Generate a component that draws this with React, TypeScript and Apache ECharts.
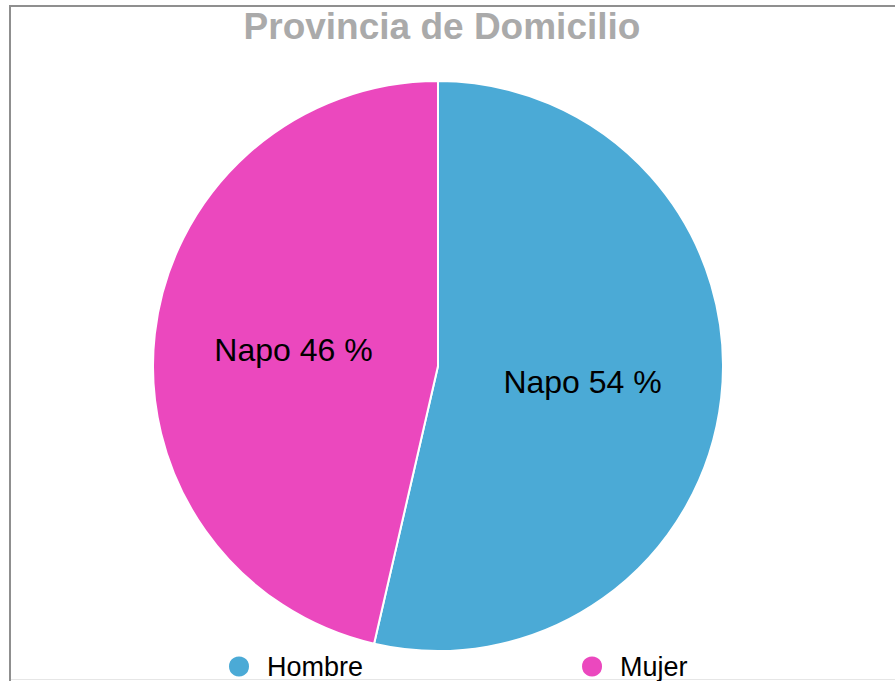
import React, { useEffect, useRef } from "react";
import * as echarts from "echarts";

const categories = ["Hombre", "Mujer"];
const values = [536, 464];
const labelPrefix = "Napo";
const titleText = "Provincia de Domicilio";
const colors = ["#4BAAD6", "#EB48BE"];

export default function App() {
  const ref = useRef<HTMLDivElement>(null);
  useEffect(() => {
    if (!ref.current) return;
    const chart = echarts.init(ref.current, null, { renderer: "svg" });
    chart.setOption({
      animation: false,
      color: colors,
      title: {
        text: titleText,
        left: 437,
        textAlign: "center",
        top: 3,
        textStyle: {
          fontFamily: "Arial, 'Liberation Sans', sans-serif",
          fontSize: 37,
          fontWeight: "bold",
          color: "#aaaaaa",
        },
      },
      legend: {
        left: 222,
        top: 648,
        icon: "circle",
        itemWidth: 22,
        itemHeight: 22,
        itemGap: 217,
        textStyle: {
          fontFamily: "Arial, 'Liberation Sans', sans-serif",
          fontSize: 27,
          color: "#000",
          padding: [0, 0, 0, 12],
        },
        data: categories,
      },
      series: [
        {
          type: "pie",
          center: [438, 366],
          radius: [0, 285],
          startAngle: 90,
          clockwise: true,
          itemStyle: { borderColor: "#fff", borderWidth: 2 },
          label: {
            position: "inside",
            fontFamily: "Arial, 'Liberation Sans', sans-serif",
            fontSize: 32,
            color: "#000",
            formatter: (p: any) => `${labelPrefix} ${Math.round(p.percent)} %`,
          },
          labelLine: { show: false },
          emphasis: { disabled: true },
          data: categories.map((name, i) => ({ name, value: values[i] })),
        },
      ],
    });
    return () => chart.dispose();
  }, []);
  return (
    <>
      <div
        style={{
          position: "absolute",
          left: 9,
          top: 5,
          width: 886,
          height: 676,
          borderLeft: "2px solid #8f8f8f",
          borderTop: "2px solid #8f8f8f",
          boxSizing: "border-box",
        }}
      />
      <div
        style={{
          position: "absolute",
          left: 11,
          top: 679,
          width: 884,
          height: 1,
          background: "#e6e6e6",
        }}
      />
      <div
        ref={ref}
        style={{ position: "absolute", left: 0, top: 0, width: 895, height: 681 }}
      />
    </>
  );
}
